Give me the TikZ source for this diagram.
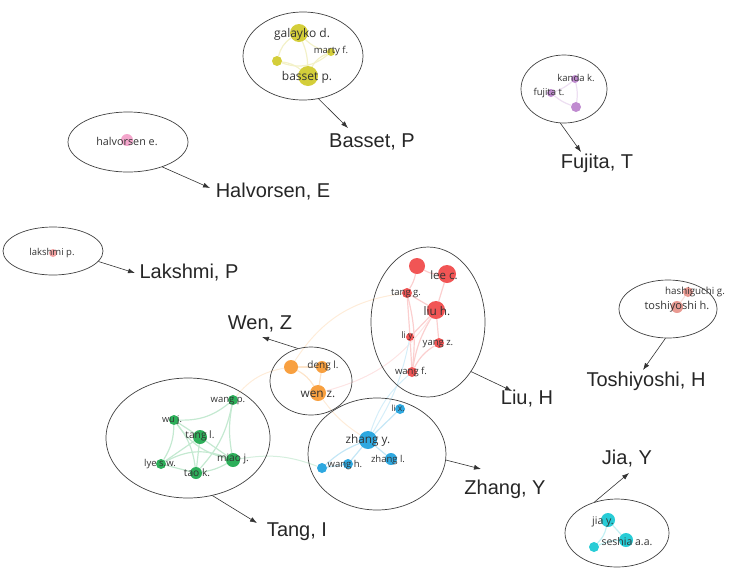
\documentclass[tikz,border=0pt]{standalone}
\usepackage{fontspec}
\setmainfont{Liberation Sans}
\newfontfamily\vosfont{Open Sans}
\usetikzlibrary{arrows.meta,shapes.geometric,backgrounds}

\definecolor{clyellow}{RGB}{212,206,58}
\definecolor{clpurple}{RGB}{192,139,208}
\definecolor{clpink}{RGB}{244,166,204}
\definecolor{clrose}{RGB}{244,163,163}
\definecolor{clred}{RGB}{241,85,85}
\definecolor{clorange}{RGB}{248,160,64}
\definecolor{clgreen}{RGB}{45,175,90}
\definecolor{clblue}{RGB}{46,168,224}
\definecolor{clsalmon}{RGB}{233,154,146}
\definecolor{clcyan}{RGB}{40,204,214}

\begin{document}
\begin{tikzpicture}[x=1pt, y=-1pt,
    au/.style={circle, inner sep=0pt, fill=#1, draw=none},
    grp/.style={ellipse, draw=black!75, line width=0.7pt, inner sep=0pt},
    nm/.style={font=\vosfont\fontsize{#1}{#1}\selectfont, text=black!80, inner sep=0pt},
    nm/.default=9.5,
    big/.style={font=\fontsize{20}{20}\selectfont, text=black!85, inner sep=0pt},
    arr/.style={-{Latex[length=7pt,width=5pt]}, black!80, line width=0.6pt},
    lnk/.style={line width=1.2pt, draw=#1!28}
]
\useasboundingbox (0,0) rectangle (733,571);

% authors (circles)
\node[au=clyellow, minimum size=18pt] (galaykoD) at (299,33) {};
\node[au=clyellow, minimum size=8pt] (martyF) at (331,52) {};
\node[au=clyellow, minimum size=10pt] (bassetU) at (277,61) {};
\node[au=clyellow, minimum size=20pt] (bassetP) at (308,76) {};

\node[au=clpurple, minimum size=8pt] (kandaK) at (575,79) {};
\node[au=clpurple, minimum size=8pt] (fujitaT) at (551,93) {};
\node[au=clpurple, minimum size=10pt] (fujitaU) at (576,107) {};

\node[au=clpink, minimum size=12pt] (halvorsenE) at (127,140) {};
\node[au=clrose, minimum size=8pt] (lakshmiP) at (53,253) {};

\node[au=clred, minimum size=16pt] (liuU) at (417,266) {};
\node[au=clred, minimum size=18pt] (leeC) at (447,274) {};
\node[au=clred, minimum size=10pt] (tangG) at (407,293) {};
\node[au=clred, minimum size=18pt] (liuH) at (436,310) {};
\node[au=clred, minimum size=8pt] (liY) at (410,337) {};
\node[au=clred, minimum size=10pt] (yangZ) at (439,343) {};
\node[au=clred, minimum size=10pt] (wangF) at (412,372) {};

\node[au=clorange, minimum size=14pt] (wenU) at (291,367) {};
\node[au=clorange, minimum size=12pt] (dengL) at (322,367) {};
\node[au=clorange, minimum size=16pt] (wenZ) at (318,393) {};

\node[au=clgreen, minimum size=10pt] (wangP) at (233,400) {};
\node[au=clgreen, minimum size=10pt] (wuJ) at (174,420) {};
\node[au=clgreen, minimum size=14pt] (tangL) at (200,437) {};
\node[au=clgreen, minimum size=10pt] (lyeSW) at (161,464) {};
\node[au=clgreen, minimum size=12pt] (taoK) at (196,473) {};
\node[au=clgreen, minimum size=14pt] (miaoJ) at (233,460) {};

\node[au=clblue, minimum size=10pt] (liX) at (400,409) {};
\node[au=clblue, minimum size=18pt] (zhangY) at (368,440) {};
\node[au=clblue, minimum size=12pt] (zhangL) at (391,459) {};
\node[au=clblue, minimum size=10pt] (wangH) at (348,464) {};
\node[au=clblue, minimum size=10pt] (zhangU) at (322,468) {};

\node[au=clsalmon, minimum size=10pt] (hashiguchiG) at (688,292) {};
\node[au=clsalmon, minimum size=12pt] (toshiyoshiH) at (677,307) {};

\node[au=clcyan, minimum size=14pt] (jiaY) at (608,520) {};
\node[au=clcyan, minimum size=14pt] (seshiaAA) at (626,540) {};
\node[au=clcyan, minimum size=10pt] (jiaU) at (594,547) {};

% co-authorship links
\begin{scope}[on background layer]
  \draw[lnk=clyellow] (galaykoD) to[bend left=10] (bassetP);
  \draw[lnk=clyellow] (galaykoD) to[bend right=15] (martyF);
  \draw[lnk=clyellow] (bassetU) to[bend right=30] (martyF);
  \draw[lnk=clyellow] (bassetU) to[bend left=15] (bassetP);
  \draw[lnk=clyellow] (bassetP) to[bend left=20] (martyF);
  \draw[lnk=clyellow] (galaykoD) to[bend right=20] (bassetU);

  \draw[lnk=clpurple] (fujitaT) to[bend right=10] (kandaK);
  \draw[lnk=clpurple] (fujitaT) to[bend right=10] (fujitaU);
  \draw[lnk=clpurple] (kandaK) to[bend left=10] (fujitaU);

  \draw[lnk=clred] (liuU) to[bend right=15] (leeC);
  \draw[lnk=clred] (liuU) to[bend left=10] (tangG);
  \draw[lnk=clred] (leeC) -- (liuH);
  \draw[lnk=clred] (tangG) -- (liuH);
  \draw[lnk=clred] (tangG) -- (liY);
  \draw[lnk=clred] (liuH) -- (liY);
  \draw[lnk=clred] (liuH) -- (yangZ);
  \draw[lnk=clred] (liY) -- (wangF);
  \draw[lnk=clred] (yangZ) to[bend right=15] (wangF);
  \draw[lnk=clred] (liuH) to[bend right=10] (wangF);
  \draw[lnk=clred] (tangG) to[bend left=10] (wangF);

  \draw[lnk=clorange] (wenU) -- (dengL);
  \draw[lnk=clorange] (wenU) to[bend left=15] (wenZ);
  \draw[lnk=clorange] (dengL) -- (wenZ);

  \draw[lnk=clgreen] (wuJ) -- (tangL);
  \draw[lnk=clgreen] (wuJ) to[bend left=15] (taoK);
  \draw[lnk=clgreen] (wuJ) to[bend right=20] (miaoJ);
  \draw[lnk=clgreen] (wuJ) to[bend left=15] (lyeSW);
  \draw[lnk=clgreen] (tangL) -- (lyeSW);
  \draw[lnk=clgreen] (tangL) -- (taoK);
  \draw[lnk=clgreen] (tangL) -- (miaoJ);
  \draw[lnk=clgreen] (lyeSW) -- (taoK);
  \draw[lnk=clgreen] (taoK) to[bend right=10] (miaoJ);
  \draw[lnk=clgreen] (wangP) to[bend left=15] (taoK);
  \draw[lnk=clgreen] (wangP) to[bend right=10] (miaoJ);
  \draw[lnk=clgreen] (wangP) to[bend left=20] (wuJ);
  \draw[lnk=clgreen] (lyeSW) to[bend left=25] (miaoJ);

  \draw[lnk=clblue] (zhangY) -- (liX);
  \draw[lnk=clblue] (zhangY) -- (zhangL);
  \draw[lnk=clblue] (zhangY) -- (wangH);
  \draw[lnk=clblue] (zhangY) to[bend right=10] (zhangU);
  \draw[lnk=clblue] (wangH) -- (zhangU);

  \draw[lnk=clsalmon] (hashiguchiG) -- (toshiyoshiH);

  \draw[lnk=clcyan] (jiaY) -- (seshiaAA);
  \draw[lnk=clcyan] (jiaY) to[bend left=15] (jiaU);
  \draw[lnk=clcyan] (seshiaAA) to[bend right=10] (jiaU);

  % links between groups
  \draw[line width=1pt, draw=clorange!20] (wenU) to[bend left=25] (tangG);
  \draw[line width=1pt, draw=clorange!20] (wenU) to[bend right=20] (wangP);
  \draw[line width=1pt, draw=clred!16] (liuH) to[bend left=20] (wenZ);
  \draw[line width=1pt, draw=clorange!20] (wenZ) to[bend right=10] (zhangY);
  \draw[line width=1pt, draw=clblue!20] (zhangY) to[bend right=10] (liY);
  \draw[line width=1pt, draw=clblue!20] (zhangY) to[bend left=15] (wangF);
  \draw[line width=1pt, draw=clgreen!20] (miaoJ) to[bend left=15] (zhangU);
\end{scope}

% author names
\node[nm=12] at (302,34) {galayko d.};
\node[nm] at (331,51) {marty f.};
\node[nm=12] at (307,77) {basset p.};
\node[nm] at (576,78) {kanda k.};
\node[nm] at (549,93) {fujita t.};
\node[nm=10.8] at (127,141) {halvorsen e.};
\node[nm] at (52,253) {lakshmi p.};
\node[nm=11.5] at (444,275) {lee c.};
\node[nm] at (406,294) {tang g.};
\node[nm=11.8] at (437,311) {liu h.};
\node[nm=9] at (408,336) {li y.};
\node[nm] at (438,344) {yang z.};
\node[nm] at (411,372) {wang f.};
\node[nm=10] at (323,366) {deng l.};
\node[nm=11.8] at (318,394) {wen z.};
\node[nm] at (228,401) {wang p.};
\node[nm=9.2] at (172,420) {wu j.};
\node[nm=10.2] at (200,436) {tang l.};
\node[nm] at (160,464) {lye s.w.};
\node[nm=10.2] at (197,473) {tao k.};
\node[nm=10.2] at (233,459) {miao j.};
\node[nm=8.5] at (398,408) {li x.};
\node[nm=11.8] at (368,440) {zhang y.};
\node[nm] at (388,460) {zhang l.};
\node[nm] at (345,465) {wang h.};
\node[nm=9.8] at (695,292) {hashiguchi g.};
\node[nm=11] at (677,307) {toshiyoshi h.};
\node[nm=10.5] at (603,522) {jia y.};
\node[nm=10.5] at (627,542) {seshia a.a.};

% groups
\node[grp, minimum width=120pt, minimum height=88pt] (grpBasset) at (303,56) {};
\node[grp, minimum width=86pt, minimum height=68pt] (grpFujita) at (564,89) {};
\node[grp, minimum width=120pt, minimum height=60pt] (grpHalvorsen) at (128,142) {};
\node[grp, minimum width=100pt, minimum height=48pt] (grpLakshmi) at (53,251) {};
\node[grp, minimum width=114pt, minimum height=150pt] (grpLiu) at (428,322) {};
\node[grp, minimum width=82pt, minimum height=68pt] (grpWen) at (311,381) {};
\node[grp, minimum width=164pt, minimum height=120pt] (grpTang) at (188,438) {};
\node[grp, minimum width=138pt, minimum height=112pt] (grpZhang) at (377,454) {};
\node[grp, minimum width=98pt, minimum height=58pt] (grpToshiyoshi) at (668,309) {};
\node[grp, minimum width=104pt, minimum height=68pt] (grpJia) at (617,533) {};

% leading authors
\node[big] (labBasset) at (372,142) {Basset, P};
\node[big] (labFujita) at (597,163) {Fujita, T};
\node[big] (labHalvorsen) at (273,192) {Halvorsen, E};
\node[big] (labLakshmi) at (189,273) {Lakshmi, P};
\node[big] (labLiu) at (527,399) {Liu, H};
\node[big] (labWen) at (260,324) {Wen, Z};
\node[big] (labTang) at (297,532) {Tang, I};
\node[big] (labZhang) at (505,489) {Zhang, Y};
\node[big] (labToshiyoshi) at (646,381) {Toshiyoshi, H};
\node[big] (labJia) at (627,459) {Jia, Y};

\coordinate (hdBasset) at (348,128);
\coordinate (hdFujita) at (581,152);
\coordinate (hdHalvorsen) at (210,188);
\coordinate (hdLakshmi) at (135,273);
\coordinate (hdLiu) at (512,391);
\coordinate (hdWen) at (262,337);
\coordinate (hdTang) at (257,523);
\coordinate (hdZhang) at (481,469);
\coordinate (hdToshiyoshi) at (643,370);
\coordinate (hdJia) at (629,473);

\draw[arr] (grpBasset.-70) -- (hdBasset);
\draw[arr] (grpFujita.-96) -- (hdFujita);
\draw[arr] (grpHalvorsen.-36) -- (hdHalvorsen);
\draw[arr] (grpLakshmi.-13) -- (hdLakshmi);
\draw[arr] (grpLiu.-49) -- (hdLiu);
\draw[arr] (grpWen.112) -- (hdWen);
\draw[arr] (grpTang.-67) -- (hdTang);
\draw[arr] (grpZhang.-5) -- (hdZhang);
\draw[arr] (grpToshiyoshi.-95) -- (hdToshiyoshi);
\draw[arr] (grpJia.126) -- (hdJia);

\end{tikzpicture}
\end{document}
